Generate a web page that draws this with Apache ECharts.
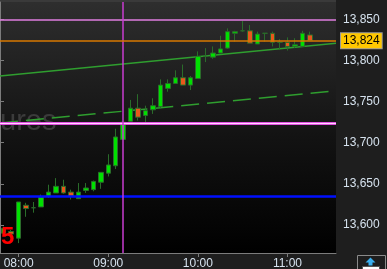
<!DOCTYPE html>
<html>
<head>
<meta charset="utf-8">
<script src="https://cdn.jsdelivr.net/npm/echarts/dist/echarts.min.js"></script>
<style>
html,body{margin:0;padding:0;background:#1e1e1e;}
#chart{width:387px;height:269px;}
</style>
</head>
<body>
<div id="chart"></div>
<script>
// ---- data ----
const categories = ["07:50","07:55","08:00","08:05","08:10","08:15","08:20","08:25","08:30","08:35","08:40","08:45","08:50","08:55",
  "09:00","09:05","09:10","09:15","09:20","09:25","09:30","09:35","09:40","09:45","09:50","09:55",
  "10:00","10:05","10:10","10:15","10:20","10:25","10:30","10:35","10:40","10:45","10:50","10:55",
  "11:00","11:05","11:10","11:15","11:20","11:25","11:30"];
// [open, close, low, high]
const candles = [
  [13590,13596,13587,13598],[13592,13589,13586,13594],
  [13584,13628,13578,13628],[13624,13620,13610,13627],[13621,13621,13615,13628],[13622,13634,13622,13637],
  [13635,13640,13633,13649],[13639,13647,13639,13657],[13647,13639,13638,13655],[13640,13635,13631,13643],
  [13632,13640,13632,13651],[13642,13645,13639,13651],[13643,13653,13641,13654],[13652,13664,13644,13664],
  [13663,13673,13659,13686],[13672,13707,13668,13717],[13704,13725,13704,13726],[13726,13742,13726,13752],
  [13742,13731,13727,13759],[13733,13739,13725,13745],[13740,13745,13735,13754],[13744,13770,13742,13777],
  [13766,13772,13762,13777],[13772,13779,13772,13788],[13779,13770,13770,13795],[13770,13779,13764,13781],
  [13778,13805,13778,13811],[13805,13805,13798,13815],[13804,13809,13802,13817],[13809,13814,13809,13830],
  [13815,13835,13814,13839],[13833,13835,13823,13836],[13836,13836,13835,13848],[13836,13821,13821,13843],
  [13820,13832,13820,13835],[13833,13833,13823,13833],[13833,13822,13817,13835],[13822,13822,13813,13826],
  [13822,13817,13812,13828],[13817,13819,13815,13827],[13817,13833,13817,13836],[13831,13824,13824,13835]
];
const xTickLabels = ["08:00","09:00","10:00","11:00"];
const yTickValues = [13600,13650,13700,13750,13800,13850];
const yTickLabels = ["13,600","13,650","13,700","13,750","13,800","13,850"];
const yMin = 13566, yMax = 13871;
const pinkHigh = 13849, lastPrice = 13824, lastPriceLabel = "13,824", pinkLow = 13724, blueLevel = 13635;
const verticalAt = "09:10";
const channelUpper = [[0,13781],[1,13821]];
const channelLower = [[0,13724],[1,13763]];
const watermark = "ures";
const cornerText = "5";

const chart = echarts.init(document.getElementById('chart'), null, {renderer:'canvas'});
const labelColor = '#d6e2ee';
const axisGrey = '#7c7c7c';
const font = 'Liberation Sans, Arial, sans-serif';

chart.setOption({
  animation:false,
  backgroundColor:'#1e1e1e',
  grid:{left:0,right:51,top:2,bottom:16,outerBoundsMode:'none',containLabel:false,show:true,borderWidth:0,
    backgroundColor:{type:'linear',x:0,y:0,x2:0,y2:1,colorStops:[{offset:0,color:'#2e2e2e'},{offset:0.55,color:'#121212'},{offset:1,color:'#000000'}]}},
  graphic:[
    {type:'rect',left:0,top:0,shape:{width:336,height:2},style:{fill:'#3a3a3a'},z:-1},
    {type:'text',left:0,top:107,z:0,style:{text:watermark,font:'29px '+font,fill:'#3b3b3b'}},
    {type:'text',left:1,top:225,z:100,style:{text:cornerText,font:'bold 24px '+font,fill:'#ff0000'}},
    {type:'group',left:357,top:255,z:100,children:[
      {type:'rect',shape:{x:0,y:0,width:28,height:16},style:{fill:'#1e1e1e',stroke:'#8a8a8a',lineWidth:1}},
      {type:'polygon',shape:{points:[[13,2],[8,7],[11,7],[11,10],[15,10],[15,7],[18,7]]},style:{fill:'#3ab0f0'}},
      {type:'rect',shape:{x:5,y:11,width:17,height:5},style:{fill:'#ffffff',stroke:'#555',lineWidth:1}}
    ]}
  ],
  xAxis:[
    {type:'category',data:categories,boundaryGap:true,
      axisLine:{show:true,lineStyle:{color:axisGrey,width:1}},
      axisTick:{show:true,alignWithLabel:true,length:4,lineStyle:{color:axisGrey},interval:(i,v)=>xTickLabels.includes(v)},
      axisLabel:{show:true,color:labelColor,fontSize:12,fontFamily:font,margin:5,interval:(i,v)=>xTickLabels.includes(v)},
      splitLine:{show:false}},
    {type:'value',min:0,max:1,show:false}
  ],
  yAxis:{type:'value',position:'right',min:yMin,max:yMax,scale:true,
    axisLine:{show:true,lineStyle:{color:axisGrey,width:1}},
    axisTick:{show:true,length:4,lineStyle:{color:axisGrey},customValues:yTickValues},
    axisLabel:{show:true,color:labelColor,fontSize:12,fontFamily:font,margin:7,customValues:yTickValues,
      formatter:v=>{const i=yTickValues.indexOf(v);return i>=0?yTickLabels[i]:'';}},
    splitLine:{show:false}},
  series:[
    {type:'line',xAxisIndex:1,data:channelUpper,symbol:'none',z:1,lineStyle:{color:'#2f9e2f',width:1.5},silent:true},
    {type:'line',xAxisIndex:1,data:channelLower,symbol:'none',z:1,lineStyle:{color:'#2f9e2f',width:1.5,type:[18,8]},silent:true},
    {type:'candlestick',data:candles,barWidth:5,z:3,
      itemStyle:{color:'#00e000',color0:'#e8581c',borderColor:'#2a6c2a',borderColor0:'#2a6c2a',borderWidth:1},
      markLine:{symbol:['none','none'],silent:true,animation:false,z:5,
        label:{show:false},
        data:[
          {yAxis:pinkHigh,lineStyle:{color:'#e07ee0',width:1.5,type:'solid'}},
          {yAxis:pinkLow,lineStyle:{color:'#e050e0',width:3,type:'solid'}},
          {yAxis:pinkLow,lineStyle:{color:'#ffd6ff',width:1,type:'solid'}},
          {yAxis:blueLevel,lineStyle:{color:'#0010ff',width:2.5,type:'solid'}},
          {xAxis:verticalAt,lineStyle:{color:'#c83cd0',width:1.5,type:'solid'}},
          {yAxis:lastPrice,lineStyle:{color:'#d87800',width:1.5,type:'solid'},
            label:{show:true,position:'end',distance:5,formatter:lastPriceLabel,color:'#000',fontSize:12,fontFamily:font,
              backgroundColor:'#ffc800',borderColor:'#9a9a9a',borderWidth:1,padding:[2,2,1,2]}}
        ]}
    }
  ]
});
</script>
</body>
</html>
